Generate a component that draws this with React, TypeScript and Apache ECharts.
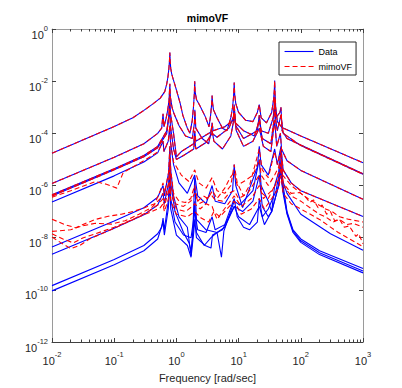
import React, { useEffect, useRef } from "react";
import * as echarts from "echarts";

// ---- tick labels (decade exponents) ----
const xTickExponents = [-2, -1, 0, 1, 2, 3];
const yTickExponents = [-12, -10, -8, -6, -4, -2, 0];
const minorTickMultipliers = [2, 3, 4, 5, 6, 7, 8, 9];

// ---- measured frequency responses ("Data"), [frequency rad/s, magnitude] ----
const data1 = [
  [0.01, 1.74e-5], [0.1, 1.82e-4], [0.2, 3.98e-4], [0.3, 7.59e-4], [0.42, 1.35e-3], [0.55, 2.24e-3],
  [0.65, 3.98e-3], [0.7, 7.94e-3], [0.73, 1.41e-2], [0.755, 2.82e-2], [0.772, 5.62e-2], [0.785, 1.26e-1],
  [0.795, 5.62e-2], [0.81, 3.16e-2], [0.84, 1.91e-2], [0.89, 1.17e-2], [0.95, 7.08e-3], [1.06, 2.82e-3],
  [1.15, 1.41e-3], [1.27, 4.9e-4], [1.5, 1.58e-4], [1.65, 1.0e-4], [1.8, 3.16e-4], [1.88, 1.0e-3],
  [1.94, 3.16e-3], [1.97, 1.0e-2], [2.0, 3.98e-3], [2.1, 2.0e-3], [2.4, 1.12e-3], [2.9, 4.47e-4],
  [3.35, 1.78e-4], [3.55, 5.01e-4], [3.68, 1.26e-3], [3.75, 2.82e-3], [3.82, 1.41e-3], [3.95, 7.94e-4],
  [4.5, 3.98e-4], [5.5, 1.58e-4], [6.5, 1.26e-4], [7.5, 3.98e-4], [8.0, 1.0e-3], [8.3, 2.51e-3],
  [8.5, 8.91e-3], [8.65, 3.16e-3], [9.0, 1.41e-3], [10, 6.31e-4], [13, 3.16e-4], [17, 2.82e-4],
  [20, 6.31e-4], [21.5, 1.26e-3], [23, 3.98e-4], [28, 2.51e-4], [34, 6.31e-4], [36.5, 2.0e-3],
  [37.5, 4.47e-3], [38, 1.05e-2], [38.6, 3.16e-3], [39.5, 1.0e-3], [42, 2.82e-4], [50, 1.66e-4],
  [100, 7.94e-5], [1000, 7.41e-6],
];
const data2 = [
  [0.01, 1.2e-6], [0.1, 1.2e-5], [0.3, 3.98e-5], [0.5, 1.0e-4], [0.58, 1.58e-4], [0.61, 5.62e-4],
  [0.63, 1.78e-4], [0.68, 3.55e-4], [0.72, 7.08e-4], [0.76, 1.78e-3], [0.785, 7.94e-3], [0.8, 2.51e-3],
  [0.85, 1.0e-3], [0.9, 6.31e-4], [1.1, 2.0e-4], [1.4, 7.94e-5], [1.8, 6.31e-5], [1.95, 2.51e-4],
  [1.98, 7.94e-4], [2.05, 1.58e-4], [2.6, 6.31e-5], [3.3, 3.98e-5], [3.7, 1.58e-4], [4.0, 5.01e-5],
  [5.5, 2.51e-5], [7.5, 7.94e-5], [8.2, 2.51e-4], [8.5, 1.0e-3], [8.7, 3.98e-4], [9.0, 2.0e-4],
  [12, 6.31e-5], [20, 1.26e-4], [21.5, 5.01e-4], [23, 1.26e-4], [30, 1.0e-4], [36, 3.98e-4],
  [37.3, 1.0e-3], [38, 2.51e-3], [39, 7.94e-4], [40, 3.98e-4], [46, 6.31e-4], [48, 1.0e-3],
  [50, 1.26e-4], [60, 6.31e-5], [100, 3.55e-5], [1000, 2.82e-6],
];
const data3 = [
  [0.01, 4.37e-7], [0.1, 4.37e-6], [0.3, 1.41e-5], [0.5, 3.16e-5], [0.7, 1.26e-4], [0.76, 5.01e-4],
  [0.785, 2.82e-3], [0.8, 6.31e-4], [0.9, 1.0e-4], [1.0, 1.26e-5], [1.2, 2.0e-5], [1.9, 3.98e-5],
  [1.97, 1.26e-4], [2.05, 5.01e-5], [3.6, 1.12e-4], [3.75, 2.51e-4], [3.9, 1.26e-4], [6, 1.78e-4],
  [8.2, 3.16e-4], [8.5, 1.26e-3], [8.9, 2.51e-4], [12, 1.26e-4], [18, 7.94e-5], [21.5, 3.16e-4],
  [24, 6.31e-5], [33, 3.98e-5], [37, 3.16e-4], [38, 1.58e-3], [39.5, 3.16e-4], [42, 1.26e-4],
  [48, 5.01e-4], [52, 1.0e-4], [100, 3.39e-5], [1000, 2.69e-6],
];
const data4 = [
  [0.01, 3.98e-7], [0.1, 3.98e-6], [0.3, 1.26e-5], [0.5, 2.82e-5], [0.7, 1.0e-4], [0.785, 8.91e-4],
  [0.8, 2.0e-4], [0.9, 2.51e-5], [1.0, 1.0e-5], [1.3, 1.41e-5], [1.9, 2.51e-5], [1.97, 6.31e-5],
  [2.05, 2.51e-5], [3.0, 4.47e-5], [3.75, 1.0e-4], [4.5, 7.08e-5], [7.0, 1.58e-4], [8.5, 5.01e-4],
  [9.2, 1.26e-4], [12, 3.16e-5], [17, 5.01e-5], [21.5, 1.58e-4], [25, 3.16e-5], [33, 2.0e-5],
  [38, 3.16e-4], [41, 3.16e-5], [47, 1.0e-4], [49, 2.51e-5], [60, 8.91e-6], [100, 3.8e-6], [1000, 2.95e-7],
];
const data5 = [
  [0.01, 2.34e-7], [0.1, 2.34e-6], [0.3, 7.94e-6], [0.5, 1.78e-5], [0.61, 5.01e-5], [0.63, 2.0e-5],
  [0.74, 5.01e-5], [0.785, 2.0e-4], [0.8, 5.01e-5], [0.9, 6.31e-6], [1.1, 1.26e-6], [1.5, 5.01e-7],
  [1.97, 2.51e-6], [2.2, 3.98e-7], [3.0, 2.0e-7], [3.75, 1.0e-6], [4.2, 2.51e-7], [6.0, 2.0e-7],
  [8.0, 6.31e-7], [8.5, 6.31e-6], [9.0, 1.0e-6], [11.6, 1.41e-7], [14, 5.01e-7], [20, 5.01e-6],
  [21.5, 3.16e-5], [23, 6.31e-6], [30, 2.51e-6], [38, 2.51e-5], [42, 6.31e-6], [48, 3.16e-5],
  [52, 3.98e-6], [70, 1.26e-6], [100, 6.31e-7], [1000, 6.46e-8],
];
const data6 = [
  [0.01, 4.37e-9], [0.1, 4.37e-8], [0.3, 1.41e-7], [0.5, 3.55e-7], [0.61, 1.0e-6], [0.64, 3.98e-7],
  [0.75, 3.16e-6], [0.785, 3.16e-5], [0.81, 3.98e-6], [0.9, 3.98e-7], [1.1, 6.31e-8], [1.5, 2.51e-8],
  [1.72, 2.0e-9], [1.85, 2.51e-8], [1.97, 2.0e-6], [2.1, 5.01e-8], [3.0, 2.0e-8], [4.5, 1.58e-8],
  [5.3, 1.78e-9], [5.8, 1.78e-8], [8.5, 2.51e-7], [10.4, 1.78e-7], [17, 6.31e-7], [21.5, 1.0e-5],
  [23, 1.0e-6], [30, 2.51e-7], [34, 1.0e-7], [38, 1.0e-6], [44, 3.16e-6], [48, 2.51e-5],
  [51, 1.58e-6], [60, 5.01e-7], [100, 7.94e-8], [300, 1.41e-8], [1000, 3.31e-9],
];
const data7 = [
  [0.01, 2.29e-9], [0.1, 2.29e-8], [0.3, 7.59e-8], [0.5, 1.78e-7], [0.61, 5.01e-7], [0.64, 2.0e-7],
  [0.75, 1.26e-6], [0.785, 1.0e-5], [0.81, 1.26e-6], [0.95, 1.0e-7], [1.3, 1.58e-8], [1.6, 6.31e-9],
  [1.72, 3.16e-9], [1.85, 1.26e-8], [1.97, 2.51e-7], [2.1, 1.58e-8], [2.8, 5.01e-9], [3.6, 1.0e-8],
  [4.5, 1.58e-8], [6.0, 2.51e-8], [8.5, 1.58e-7], [11.6, 1.0e-7], [17, 2.51e-7], [21.5, 2.51e-6],
  [24, 1.58e-7], [30, 6.31e-8], [34, 1.0e-7], [44, 1.0e-6], [48, 1.0e-5], [52, 1.0e-6],
  [60, 1.0e-7], [75, 2.0e-8], [100, 8.91e-9], [200, 3.16e-9], [1000, 6.61e-10],
];
const data8 = [
  [0.01, 1.45e-10], [0.1, 1.45e-9], [0.3, 5.01e-9], [0.5, 1.41e-8], [0.58, 2.51e-8], [0.61, 5.62e-8],
  [0.64, 2.0e-8], [0.74, 2.51e-7], [0.785, 3.16e-6], [0.81, 3.16e-7], [0.95, 3.98e-8], [1.3, 1.26e-8],
  [1.72, 1.0e-8], [1.97, 1.0e-7], [2.2, 2.0e-8], [3.0, 1.58e-8], [3.75, 6.31e-8], [4.2, 2.0e-8],
  [6, 3.16e-8], [8.5, 3.16e-7], [9.5, 6.31e-8], [12, 2.51e-8], [15, 2.0e-8], [20, 3.98e-8],
  [21.5, 3.16e-7], [24, 6.31e-8], [30, 1.26e-7], [40, 6.31e-7], [47, 5.01e-6], [49, 1.58e-6],
  [60, 8.91e-8], [75, 1.78e-8], [100, 7.59e-9], [200, 2.63e-9], [1000, 5.25e-10],
];
const data9 = [
  [0.01, 9.12e-11], [0.1, 9.12e-10], [0.3, 3.16e-9], [0.5, 8.91e-9], [0.61, 3.98e-8], [0.64, 1.26e-8],
  [0.74, 1.26e-7], [0.785, 1.26e-6], [0.81, 1.26e-7], [1.0, 1.26e-8], [1.5, 5.01e-9], [1.72, 1.78e-9],
  [1.9, 1.58e-8], [1.97, 5.01e-8], [2.1, 1.0e-8], [2.9, 5.01e-9], [3.6, 3.98e-9], [3.8, 1.26e-8],
  [5.5, 2.0e-8], [8.5, 1.58e-7], [10, 6.31e-8], [15, 3.16e-8], [21.5, 1.58e-7], [26, 3.16e-8],
  [34, 1.0e-7], [44, 1.0e-6], [48, 3.98e-6], [51, 6.31e-7], [60, 7.94e-8], [75, 1.58e-8],
  [100, 6.61e-9], [200, 2.24e-9], [1000, 4.47e-10],
];

// ---- fitted responses ("mimoVF") that differ from the data ----
const fit5 = [
  [0.01, 3.55e-7], [0.02, 6.31e-7], [0.05, 1.41e-6], [0.075, 1.12e-6], [0.11, 7.94e-7], [0.14, 3.16e-6],
  [0.3, 8.91e-6], [0.5, 1.91e-5], [0.61, 5.01e-5], [0.63, 2.0e-5], [0.74, 5.01e-5], [0.785, 2.0e-4],
  [0.8, 5.01e-5], [0.9, 7.94e-6], [1.2, 2.51e-6], [1.6, 1.41e-6], [1.97, 3.98e-6], [2.3, 1.26e-6],
  [3.0, 7.94e-7], [3.75, 2.0e-6], [4.5, 6.31e-7], [6.0, 5.01e-7], [7.5, 1.0e-6], [8.5, 6.31e-6],
  [9.5, 1.26e-6], [12, 3.98e-7], [15, 1.0e-6], [21.5, 2.51e-5], [24, 3.98e-6], [30, 2.0e-6],
  [38, 2.0e-5], [42, 6.31e-6], [48, 2.51e-5], [52, 3.98e-6], [70, 1.26e-6], [100, 6.31e-7], [1000, 6.46e-8],
];
const fit6 = [
  [0.01, 5.13e-8], [0.016, 3.16e-8], [0.024, 2.4e-8], [0.035, 3.55e-8], [0.05, 5.01e-8], [0.08, 6.61e-8],
  [0.13, 7.94e-8], [0.2, 1.0e-7], [0.3, 1.38e-7], [0.45, 2.0e-7], [0.55, 6.31e-7], [0.61, 1.26e-6],
  [0.64, 5.01e-7], [0.75, 3.16e-6], [0.785, 3.16e-5], [0.81, 3.98e-6], [0.9, 5.01e-7], [1.1, 2.51e-7],
  [1.4, 2.24e-7], [1.7, 3.16e-7], [1.97, 1.0e-6], [2.2, 2.51e-7], [2.7, 3.98e-7], [3.2, 3.16e-7],
  [3.8, 6.31e-7], [4.5, 3.16e-7], [6.0, 7.94e-7], [7.3, 2.0e-6], [8.5, 3.16e-6], [9.5, 1.0e-6],
  [13, 1.58e-6], [17, 2.51e-6], [21.5, 1.0e-5], [23, 2.51e-6], [30, 1.0e-6], [38, 2.51e-6],
  [44, 5.01e-6], [48, 2.0e-5], [51, 2.51e-6], [70, 1.0e-6], [100, 5.01e-7], [120, 3.55e-7],
  [140, 2.24e-7], [160, 2.82e-7], [190, 1.41e-7], [220, 1.78e-7], [260, 7.94e-8], [300, 1.0e-7],
  [350, 4.47e-8], [420, 5.01e-8], [500, 2.51e-8], [600, 2.82e-8], [770, 1.12e-8], [850, 1.41e-8], [1000, 5.89e-9],
];
const fit7 = [
  [0.01, 1.74e-8], [0.02, 2.0e-8], [0.03, 2.82e-8], [0.05, 3.55e-8], [0.09, 3.31e-8], [0.15, 4.47e-8],
  [0.25, 7.94e-8], [0.4, 1.41e-7], [0.55, 3.16e-7], [0.61, 5.01e-7], [0.64, 2.51e-7], [0.75, 1.26e-6],
  [0.785, 1.0e-5], [0.81, 1.26e-6], [0.95, 2.0e-7], [1.3, 1.58e-7], [1.7, 2.51e-7], [1.97, 5.01e-7],
  [2.3, 2.0e-7], [2.8, 2.51e-7], [3.6, 4.47e-7], [4.2, 2.82e-7], [5.5, 2.51e-7], [7, 5.01e-7],
  [8.5, 6.31e-7], [10, 3.16e-7], [14, 5.01e-7], [21.5, 2.51e-6], [24, 5.01e-7], [30, 3.16e-7],
  [40, 1.26e-6], [48, 7.94e-6], [52, 1.26e-6], [70, 5.01e-7], [96, 5.37e-7], [130, 3.16e-7],
  [150, 2.63e-7], [180, 2.0e-7], [250, 1.26e-7], [320, 1.0e-7], [420, 6.31e-8], [600, 5.01e-8], [1000, 3.98e-8],
];
const fit8 = [
  [0.01, 1.41e-8], [0.015, 8.91e-9], [0.022, 6.31e-9], [0.032, 1.0e-8], [0.05, 1.41e-8], [0.1, 2.51e-8],
  [0.2, 5.01e-8], [0.35, 1.0e-7], [0.5, 1.78e-7], [0.61, 3.16e-7], [0.64, 1.58e-7], [0.75, 6.31e-7],
  [0.785, 3.16e-6], [0.81, 5.01e-7], [1.0, 1.26e-7], [1.4, 1.0e-7], [1.8, 1.58e-7], [1.97, 2.0e-7],
  [2.4, 1.26e-7], [3.0, 2.0e-7], [3.75, 1.58e-7], [4.5, 5.01e-8], [5.5, 1.0e-7], [8.5, 3.98e-7],
  [11, 1.58e-7], [16, 3.16e-7], [21.5, 1.0e-6], [25, 3.16e-7], [34, 6.31e-7], [44, 1.58e-6],
  [48, 5.01e-6], [52, 1.0e-6], [70, 3.98e-7], [100, 2.51e-7], [150, 1.26e-7], [200, 7.94e-8],
  [250, 6.31e-8], [330, 3.98e-8], [420, 5.01e-8], [550, 3.16e-8], [700, 3.55e-8], [1000, 2.51e-8],
];
const fit9 = [
  [0.01, 1.05e-8], [0.014, 6.31e-9], [0.02, 3.8e-9], [0.028, 5.01e-9], [0.04, 8.91e-9], [0.07, 1.58e-8],
  [0.12, 2.82e-8], [0.25, 6.31e-8], [0.4, 1.0e-7], [0.55, 1.41e-7], [0.61, 2.0e-7], [0.64, 1.0e-7],
  [0.75, 3.16e-7], [0.785, 1.26e-6], [0.81, 2.51e-7], [1.0, 7.94e-8], [1.5, 6.31e-8], [1.97, 1.0e-7],
  [2.5, 5.62e-8], [3.3, 3.98e-8], [4.0, 1.0e-7], [5.0, 6.31e-8], [6.5, 1.26e-7], [8.5, 2.51e-7],
  [11, 7.94e-8], [16, 1.26e-7], [21.5, 3.16e-7], [26, 1.26e-7], [34, 3.16e-7], [44, 7.94e-7],
  [48, 2.51e-6], [52, 5.01e-7], [70, 2.0e-7], [100, 1.26e-7], [200, 5.01e-8], [400, 1.58e-8], [1000, 4.47e-9],
];

const dataSeries = [data1, data2, data3, data4, data5, data6, data7, data8, data9];
const fitSeries = [data1, data2, data3, data4, fit5, fit6, fit7, fit8, fit9];

const FONT = "'Liberation Sans', Arial, Helvetica, sans-serif";
const TEXT = "#262626";
const BLUE = "#0000ff";
const RED = "#ff0000";
const DASH = [5, 3];

const rich = {
  b: { fontSize: 11, fontFamily: FONT, color: TEXT, lineHeight: 16, verticalAlign: "bottom" },
  e: { fontSize: 7.5, fontFamily: FONT, color: TEXT, lineHeight: 8, verticalAlign: "top" },
};
const powLabel = (v: number) => `{b|10}{e|${Math.round(v)}}`;

const minorTicks: number[] = [];
xTickExponents.slice(0, -1).forEach((d) =>
  minorTickMultipliers.forEach((k) => minorTicks.push(d + Math.log10(k)))
);

export default function App() {
  const ref = useRef<HTMLDivElement>(null);
  useEffect(() => {
    if (!ref.current) return;
    const chart = echarts.init(ref.current, undefined, { renderer: "svg" });
    const xMin = xTickExponents[0];
    const xMax = xTickExponents[xTickExponents.length - 1];
    const yMin = yTickExponents[0];
    const yMax = yTickExponents[yTickExponents.length - 1];
    const grid = { left: 52, right: 39, top: 29, bottom: 42 };
    const dark = "#404040";
    const gray = "#9a9a9a";
    const overlayX = (pos: string, opts: any) => ({
      type: "value", min: xMin, max: xMax, interval: 1, position: pos,
      splitLine: { show: false }, axisLabel: { show: false }, axisTick: { show: false },
      axisLine: { show: false, onZero: false }, silent: true, ...opts,
    });
    const option: any = {
      animation: false,
      backgroundColor: "#ffffff",
      title: {
        text: "mimoVF", left: 207.5, top: 12.5, textAlign: "center", padding: 0,
        textStyle: { fontSize: 10.5, fontWeight: "bold", fontFamily: FONT, color: "#000" },
      },
      legend: {
        orient: "vertical", left: 279, top: 42, padding: [5, 4, 4, 5],
        itemWidth: 29, itemHeight: 10, itemGap: 6,
        borderColor: TEXT, borderWidth: 1, backgroundColor: "#fff", borderRadius: 0,
        itemStyle: { opacity: 0, borderWidth: 0 },
        lineStyle: { width: 1.1 },
        textStyle: { fontSize: 9, fontFamily: FONT, color: "#000" },
        data: [
          { name: "Data", lineStyle: { color: BLUE, width: 1.1, type: "solid" } },
          { name: "mimoVF", lineStyle: { color: RED, width: 1.1, type: DASH } },
        ],
        selectedMode: false,
      },
      grid,
      xAxis: [
        { type: "log", logBase: 10, min: 10 ** xMin, max: 10 ** xMax, show: false },
        overlayX("bottom", {
          axisLine: { show: true, onZero: false, lineStyle: { color: dark, width: 1 } },
          axisTick: { show: true, inside: true, length: 4, lineStyle: { color: dark } },
          axisLabel: { show: true, formatter: powLabel, rich, margin: 8, showMinLabel: true, showMaxLabel: true },
          name: "Frequency [rad/sec]", nameLocation: "middle", nameGap: 30,
          nameTextStyle: { fontSize: 11, fontFamily: FONT, color: TEXT },
        }),
        overlayX("bottom", {
          axisTick: { show: true, inside: true, length: 2.5, customValues: minorTicks, lineStyle: { color: dark } },
        }),
        overlayX("top", {
          axisLine: { show: true, onZero: false, lineStyle: { color: gray, width: 1 } },
          axisTick: { show: true, inside: true, length: 4, lineStyle: { color: dark } },
        }),
        overlayX("top", {
          axisTick: { show: true, inside: true, length: 2.5, customValues: minorTicks, lineStyle: { color: dark } },
        }),
      ],
      yAxis: [
        { type: "log", logBase: 10, min: 10 ** yMin, max: 10 ** yMax, show: false },
        {
          type: "value", min: yMin, max: yMax, interval: 2, position: "left", silent: true,
          splitLine: { show: false },
          axisLine: { show: true, onZero: false, lineStyle: { color: gray, width: 1 } },
          axisTick: { show: true, inside: true, length: 4, lineStyle: { color: dark } },
          axisLabel: { formatter: powLabel, rich, margin: 4, padding: [6, 0, 0, 0], showMinLabel: true, showMaxLabel: true },
        },
        {
          type: "value", min: yMin, max: yMax, interval: 2, position: "right", silent: true,
          splitLine: { show: false }, axisLabel: { show: false },
          axisLine: { show: true, onZero: false, lineStyle: { color: gray, width: 1 } },
          axisTick: { show: true, inside: true, length: 4, lineStyle: { color: dark } },
        },
      ],
      series: [
        ...dataSeries.map((d) => ({
          name: "Data", type: "line", data: d, xAxisIndex: 0, yAxisIndex: 0,
          symbol: "none", silent: true, clip: true,
          lineStyle: { color: BLUE, width: 1.1, type: "solid" },
          itemStyle: { color: BLUE },
          emphasis: { disabled: true },
        })),
        ...fitSeries.map((d) => ({
          name: "mimoVF", type: "line", data: d, xAxisIndex: 0, yAxisIndex: 0,
          symbol: "none", silent: true, clip: true,
          lineStyle: { color: RED, width: 1.1, type: DASH },
          itemStyle: { color: RED },
          emphasis: { disabled: true },
        })),
      ],
    };
    chart.setOption(option);
    return () => chart.dispose();
  }, []);
  return (
    <div
      ref={ref}
      style={{ position: "fixed", left: 0, top: 0, width: 402, height: 388, background: "#fff" }}
    />
  );
}
